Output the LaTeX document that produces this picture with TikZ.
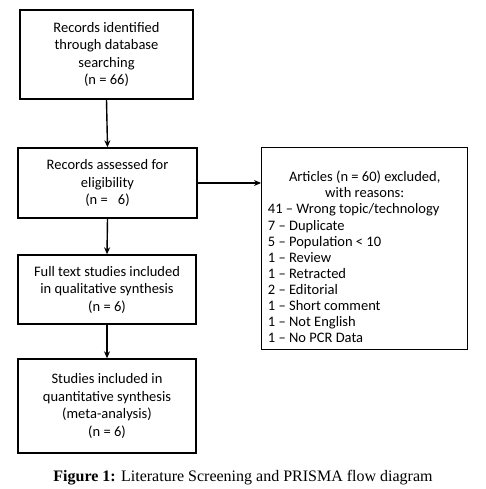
\documentclass[tikz,border=0pt]{standalone}
\usepackage{fontspec}
\setmainfont{Carlito}
\newfontfamily\capfont{Liberation Serif}
\usetikzlibrary{arrows.meta}
\begin{document}
\begin{tikzpicture}[x=1pt,y=-1pt,
  box/.style={draw, line width=1.4pt, inner sep=0pt, align=center,
    font=\fontsize{14.5}{17.5}\selectfont},
  arr/.style={line width=1.4pt, -{Stealth[length=7pt,width=6pt]}}]
\useasboundingbox (0,0) rectangle (485,489);
\node[box, minimum width=173, minimum height=89] (rec) at (106.5,54.5)
  {Records identified\\through database\\searching\\(n = 66)};
\node[box, minimum width=179, minimum height=70] (ass) at (107.5,183)
  {Records assessed for\\eligibility\\(n =\hspace{0.7em}6)};
\node[box, minimum width=178, minimum height=69] (full) at (107,289.5)
  {Full text studies included\\in qualitative synthesis\\(n = 6)};
\node[box, minimum width=178, minimum height=94] (quant) at (107,406)
  {Studies included in\\quantitative synthesis\\(meta-analysis)\\(n = 6)};
\node[box, minimum width=206, minimum height=202, anchor=north west,
  font=\fontsize{14.5}{16.1}\selectfont] (excl) at (261,147)
  {\begin{tabular}{@{}l@{\hspace{22pt}}}
   \multicolumn{1}{@{}c@{}}{\rule{0pt}{32pt}Articles (n = 60) excluded,}\\
   \multicolumn{1}{@{}c@{}}{with reasons:}\\
   41 -- Wrong topic/technology\\
   7 -- Duplicate\\
   5 -- Population < 10\\
   1 -- Review\\
   1 -- Retracted\\
   2 -- Editorial\\
   1 -- Short comment\\
   1 -- Not English\\
   1 -- No PCR Data
   \end{tabular}};
\node[font=\capfont\fontsize{16}{18}\selectfont] (cap) at (243,478)
  {\textbf{Figure 1:} Literature Screening and PRISMA flow diagram};
\draw[arr] (rec.south) -- (ass.north);
\draw[arr] (ass.south) -- (full.north);
\draw[arr] (full.south) -- (quant.north);
\draw[arr] (ass.east) -- (ass.east -| excl.west);
\end{tikzpicture}
\end{document}
